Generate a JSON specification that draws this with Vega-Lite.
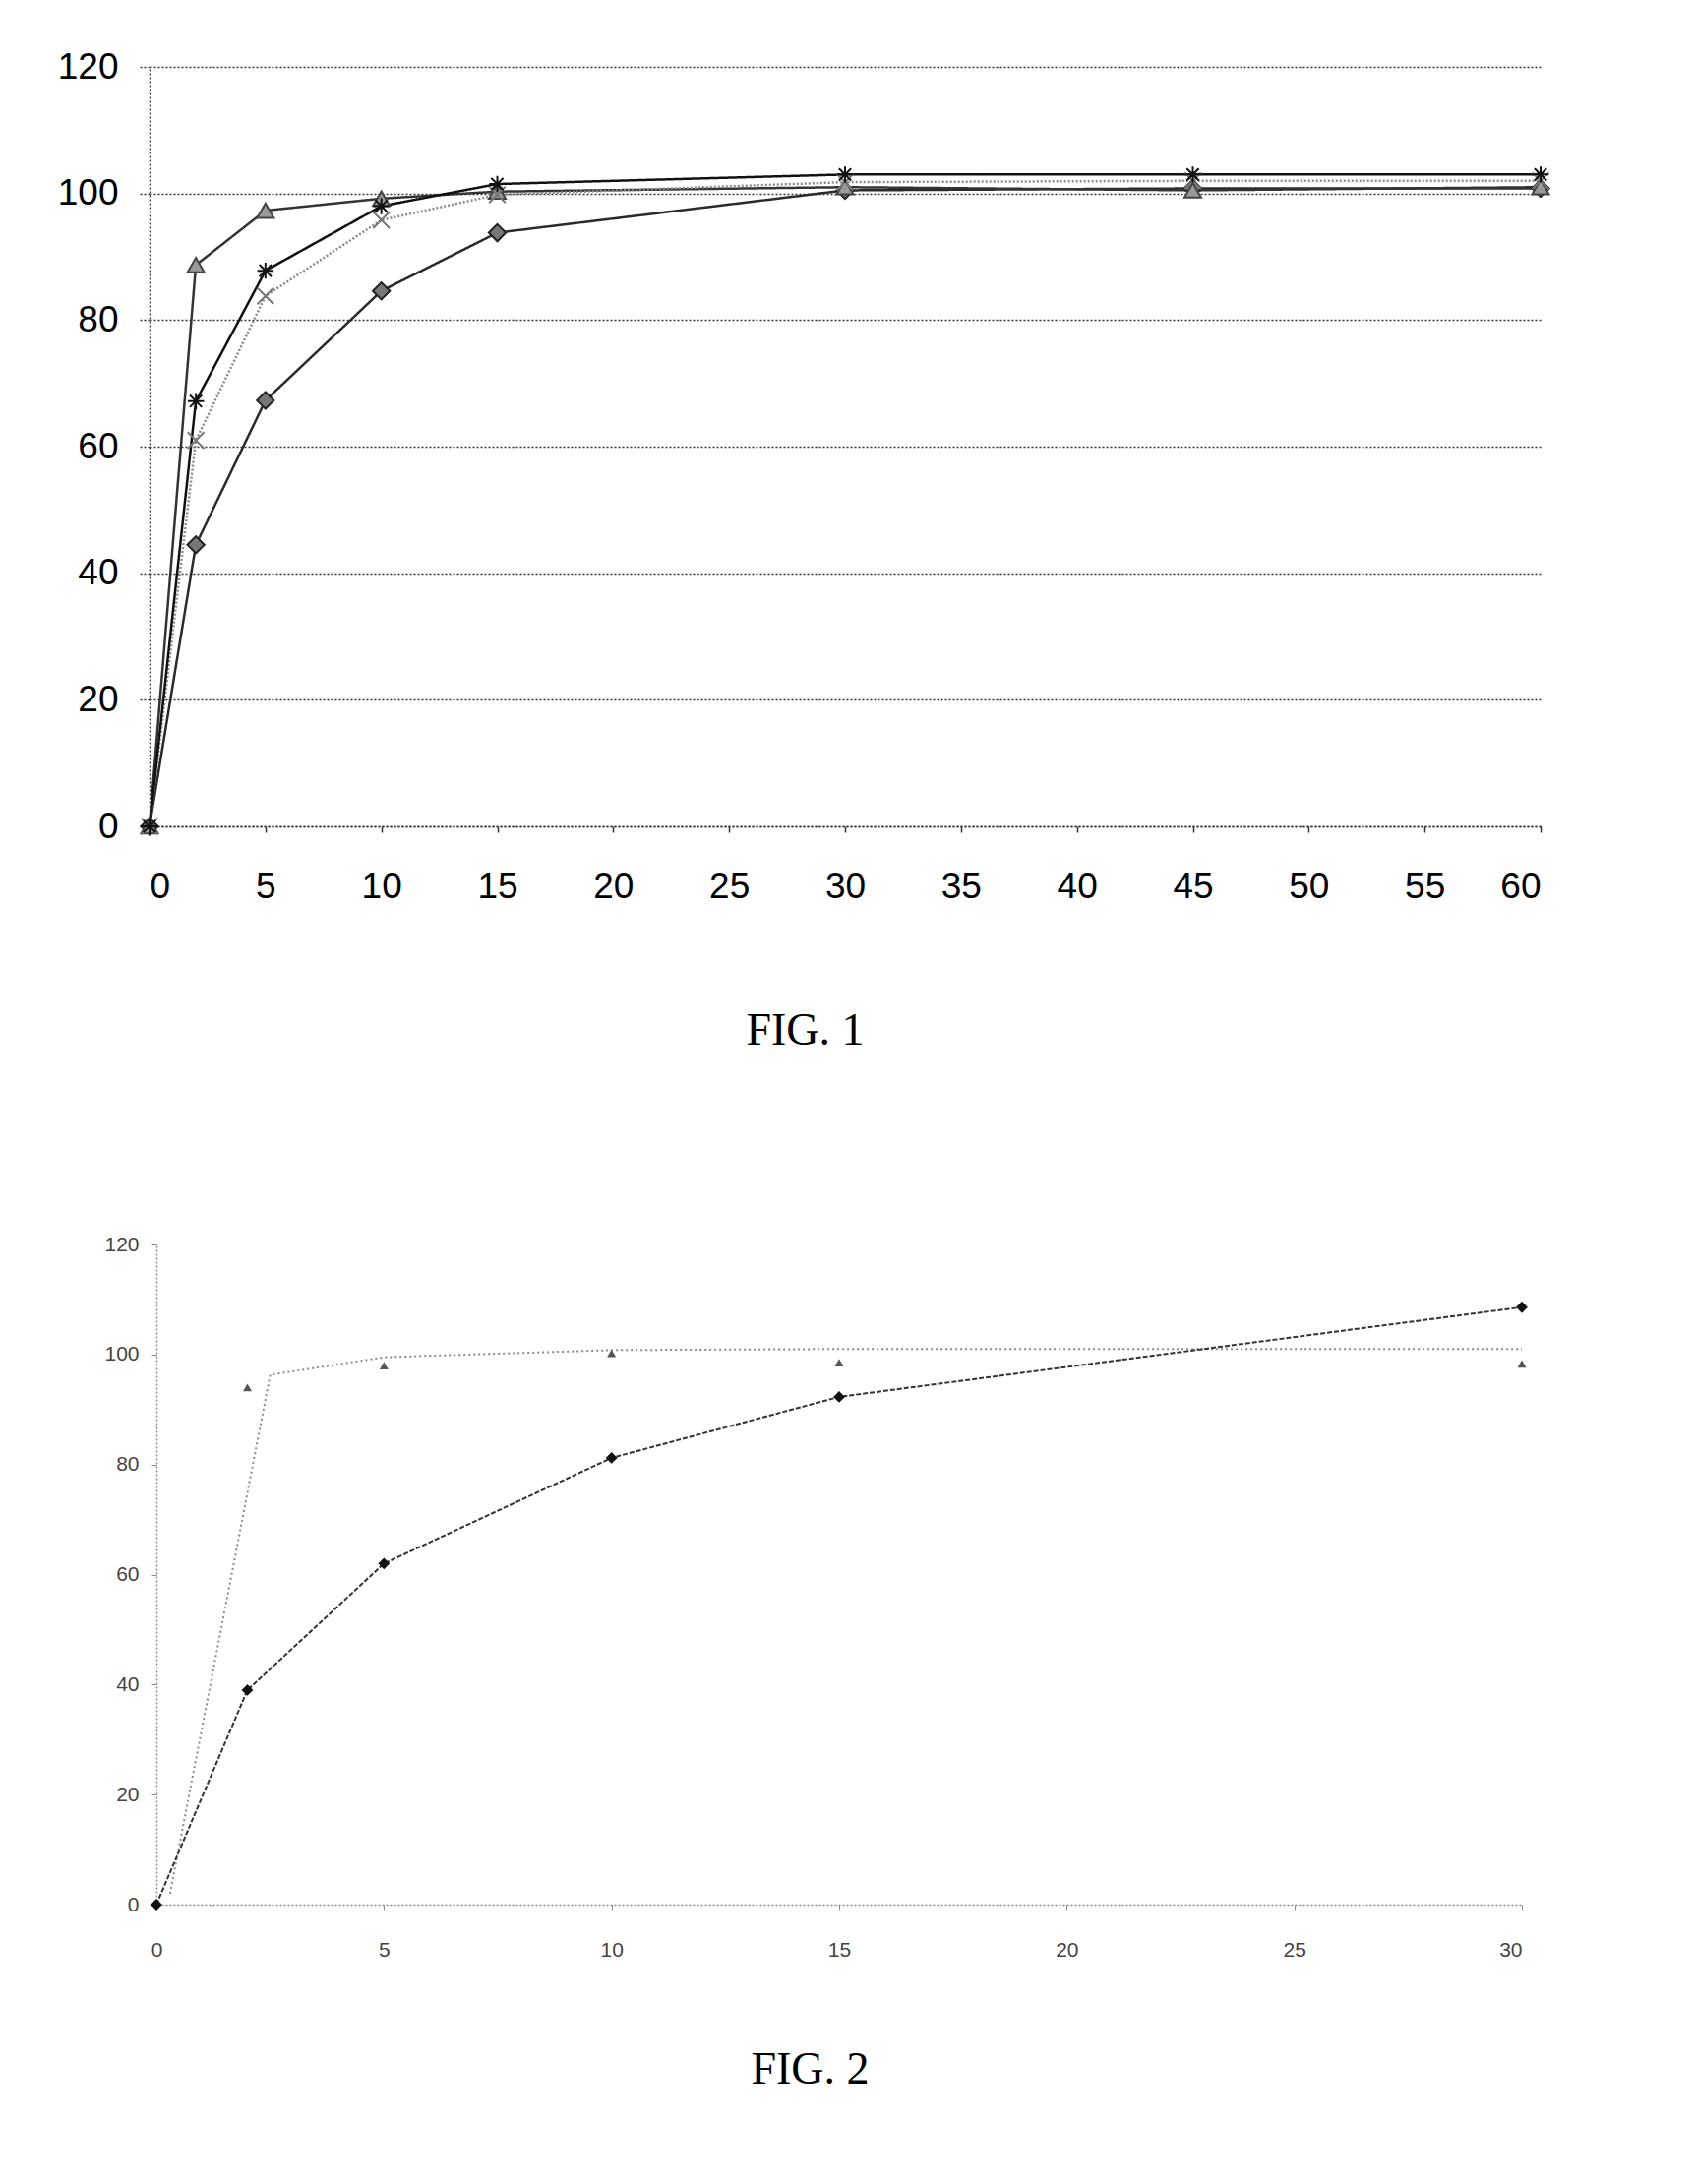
{
  "$schema": "https://vega.github.io/schema/vega-lite/v6.json",
  "background": "white",
  "padding": {"left": 58, "top": 49, "right": 20, "bottom": 0},
  "spacing": 184,
  "datasets": {
    "fig1": [
      {"t": 0, "v": 0, "s": "A"}, {"t": 2, "v": 44.5, "s": "A"}, {"t": 5, "v": 67.3, "s": "A"}, {"t": 10, "v": 84.6, "s": "A"},
      {"t": 15, "v": 93.8, "s": "A"}, {"t": 30, "v": 100.5, "s": "A"}, {"t": 45, "v": 100.8, "s": "A"}, {"t": 60, "v": 100.8, "s": "A"},
      {"t": 0, "v": 0, "s": "B"}, {"t": 2, "v": 88.7, "s": "B"}, {"t": 5, "v": 97.3, "s": "B"}, {"t": 10, "v": 99.2, "s": "B"},
      {"t": 15, "v": 100.3, "s": "B"}, {"t": 30, "v": 101, "s": "B"}, {"t": 45, "v": 100.5, "s": "B"}, {"t": 60, "v": 101, "s": "B"},
      {"t": 0, "v": 0, "s": "C"}, {"t": 2, "v": 61, "s": "C"}, {"t": 5, "v": 83.8, "s": "C"}, {"t": 10, "v": 95.8, "s": "C"},
      {"t": 15, "v": 99.8, "s": "C"}, {"t": 30, "v": 101.8, "s": "C"}, {"t": 45, "v": 102, "s": "C"}, {"t": 60, "v": 102, "s": "C"},
      {"t": 0, "v": 0, "s": "D"}, {"t": 2, "v": 67.2, "s": "D"}, {"t": 5, "v": 87.8, "s": "D"}, {"t": 10, "v": 98, "s": "D"},
      {"t": 15, "v": 101.5, "s": "D"}, {"t": 30, "v": 103, "s": "D"}, {"t": 45, "v": 103, "s": "D"}, {"t": 60, "v": 103, "s": "D"}
    ],
    "fig2": [
      {"t": 0, "v": 0, "s": "diamond"}, {"t": 2, "v": 39, "s": "diamond"}, {"t": 5, "v": 62, "s": "diamond"},
      {"t": 10, "v": 81.2, "s": "diamond"}, {"t": 15, "v": 92.3, "s": "diamond"}, {"t": 30, "v": 108.6, "s": "diamond"},
      {"t": 2, "v": 94, "s": "triangle"}, {"t": 5, "v": 98, "s": "triangle"}, {"t": 10, "v": 100.2, "s": "triangle"},
      {"t": 15, "v": 98.5, "s": "triangle"}, {"t": 30, "v": 98.3, "s": "triangle"},
      {"t": 0.3, "v": 2, "s": "fit"}, {"t": 2.5, "v": 96.3, "s": "fit"}, {"t": 5, "v": 99.5, "s": "fit"},
      {"t": 10, "v": 100.8, "s": "fit"}, {"t": 15, "v": 101, "s": "fit"}, {"t": 30, "v": 101, "s": "fit"}
    ]
  },
  "vconcat": [
    {
      "width": 1414,
      "height": 772,
      "data": {"name": "fig1"},
      "encoding": {
        "x": {
          "field": "t", "type": "quantitative",
          "scale": {"domain": [0, 60], "nice": false},
          "axis": {
            "values": [0, 5, 10, 15, 20, 25, 30, 35, 40, 45, 50, 55, 60],
            "grid": false, "tickSize": 6, "labelPadding": 37,
            "labelFont": "Liberation Sans", "labelFontSize": 37, "labelColor": "#000",
            "domainColor": "#333", "domainDash": [2, 2], "domainWidth": 1.5,
            "tickColor": "#333", "tickWidth": 1.5,
            "title": "FIG. 1", "titleFont": "Liberation Serif", "titleFontSize": 46,
            "titleFontWeight": "normal", "titleColor": "#000",
            "titleX": 666, "titleY": 221, "titleBaseline": "alphabetic", "titleAlign": "center"
          }
        },
        "y": {
          "field": "v", "type": "quantitative",
          "scale": {"domain": [0, 120], "nice": false},
          "axis": {
            "values": [0, 20, 40, 60, 80, 100, 120],
            "grid": true, "gridColor": "#333", "gridDash": [2, 2], "gridWidth": 1.5,
            "tickSize": 10, "tickColor": "#333", "tickDash": [2, 2], "tickWidth": 1.5,
            "labelPadding": 22, "labelFont": "Liberation Sans", "labelFontSize": 37, "labelColor": "#000",
            "domainColor": "#333", "domainDash": [2, 2], "domainWidth": 1.5,
            "title": null
          }
        }
      },
      "layer": [
        {
          "mark": {"type": "line"},
          "encoding": {
            "detail": {"field": "s"},
            "color": {"field": "s", "type": "nominal", "legend": null,
              "scale": {"domain": ["A", "B", "C", "D"], "range": ["#2a2a2a", "#333333", "#8a8a8a", "#111111"]}},
            "strokeDash": {"field": "s", "type": "nominal", "legend": null,
              "scale": {"domain": ["A", "B", "C", "D"], "range": [[1, 0], [1, 0], [2, 2], [1, 0]]}},
            "strokeWidth": {"field": "s", "type": "nominal", "legend": null,
              "scale": {"domain": ["A", "B", "C", "D"], "range": [2.5, 2.5, 1.5, 3]}}
          }
        },
        {
          "mark": {"type": "point", "filled": false, "strokeWidth": 2, "opacity": 1},
          "encoding": {
            "shape": {"field": "s", "type": "nominal", "legend": null,
              "scale": {"domain": ["A", "B", "C", "D"],
                "range": ["diamond", "triangle-up", "M-1,-1L1,1M-1,1L1,-1", "M-1,0L1,0M0,-1L0,1M-0.75,-0.75L0.75,0.75M-0.75,0.75L0.75,-0.75"]}},
            "fill": {"field": "s", "type": "nominal", "legend": null,
              "scale": {"domain": ["A", "B", "C", "D"], "range": ["#777777", "#999999", "transparent", "transparent"]}},
            "stroke": {"field": "s", "type": "nominal", "legend": null,
              "scale": {"domain": ["A", "B", "C", "D"], "range": ["#222222", "#444444", "#777777", "#111111"]}},
            "size": {"field": "s", "type": "nominal", "legend": null,
              "scale": {"domain": ["A", "B", "C", "D"], "range": [300, 270, 300, 380]}}
          }
        }
      ]
    },
    {
      "width": 1395,
      "height": 671,
      "data": {"name": "fig2"},
      "encoding": {
        "x": {
          "field": "t", "type": "quantitative",
          "scale": {"domain": [-0.151, 30], "nice": false, "zero": false},
          "axis": {
            "values": [0, 5, 10, 15, 20, 25, 30],
            "grid": false, "tickSize": 5, "labelPadding": 30,
            "labelFont": "Liberation Sans", "labelFontSize": 21, "labelColor": "#444",
            "domainColor": "#888", "domainDash": [2, 2], "domainWidth": 1.5,
            "tickColor": "#888", "tickWidth": 1,
            "title": "FIG. 2", "titleFont": "Liberation Serif", "titleFontSize": 46,
            "titleFontWeight": "normal", "titleColor": "#000",
            "titleX": 671, "titleY": 181, "titleBaseline": "alphabetic", "titleAlign": "center"
          }
        },
        "y": {
          "field": "v", "type": "quantitative",
          "scale": {"domain": [0, 120], "nice": false},
          "axis": {
            "values": [0, 20, 40, 60, 80, 100, 120], "offset": -7,
            "grid": false, "tickSize": 5, "tickColor": "#888",
            "labelPadding": 13, "labelFont": "Liberation Sans", "labelFontSize": 21, "labelColor": "#444",
            "domainColor": "#888", "domainDash": [2, 2], "domainWidth": 1.5,
            "title": null
          }
        }
      },
      "layer": [
        {
          "transform": [{"filter": "datum.s === 'fit'"}],
          "mark": {"type": "line", "color": "#8a8a8a", "strokeWidth": 2, "strokeDash": [2, 3]}
        },
        {
          "transform": [{"filter": "datum.s === 'diamond'"}],
          "mark": {"type": "line", "color": "#333333", "strokeWidth": 2, "strokeDash": [5, 2]}
        },
        {
          "transform": [{"filter": "datum.s === 'diamond'"}],
          "mark": {"type": "point", "shape": "diamond", "filled": true, "color": "#111111", "size": 140, "opacity": 1}
        },
        {
          "transform": [{"filter": "datum.s === 'triangle'"}],
          "mark": {"type": "point", "shape": "triangle-up", "filled": true, "color": "#555555", "size": 80, "opacity": 1}
        }
      ]
    }
  ],
  "config": {"view": {"stroke": null}}
}
